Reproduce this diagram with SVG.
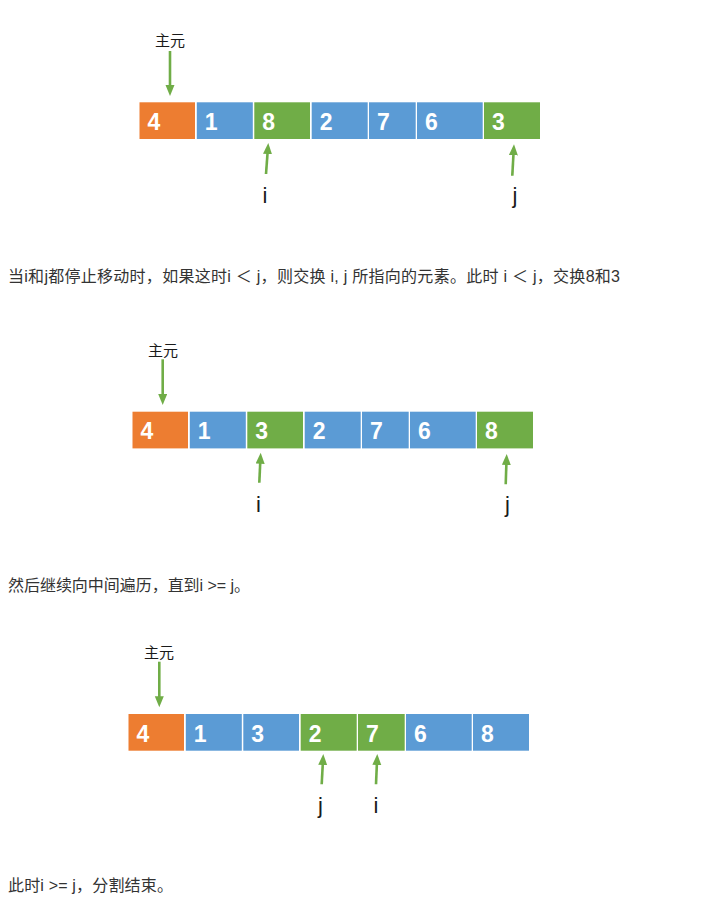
<svg xmlns="http://www.w3.org/2000/svg" width="727" height="909" viewBox="0 0 727 909">
<style>
.o{fill:#ED7D31}
.b{fill:#5B9BD5}
.g{fill:#70AD47}
.n{font-family:"Liberation Sans",Arial,sans-serif;font-weight:bold;font-size:23px;fill:#ffffff}
.lbl{font-family:"Liberation Sans",Arial,sans-serif;font-size:22px;fill:#1a1a1a;text-anchor:middle}
.pv{font-family:"Liberation Sans","Noto Sans CJK SC",sans-serif;font-size:15px;fill:#1a1a1a;text-anchor:middle}
.cap{font-family:"Liberation Sans","Noto Sans CJK SC",sans-serif;font-size:16px;fill:#333333}
.ar{stroke:#70AD47;stroke-width:2.6;fill:none;marker-end:url(#ah)}
</style>
<defs>
<marker id="ah" markerUnits="userSpaceOnUse" markerWidth="12" markerHeight="10" refX="1" refY="4.5" orient="auto">
<path d="M0,0 L11,4.5 L0,9 z" fill="#70AD47"/>
</marker>
</defs>
<rect width="727" height="909" fill="#ffffff"/>

<!-- Diagram 1 -->
<g id="d1">
<g id="d1c0"><rect class="o" x="139.5" y="102.3" width="55.5" height="36.7"/><text class="n" x="147.5" y="130">4</text></g>
<g id="d1c1"><rect class="b" x="196.8" y="102.3" width="56" height="36.7"/><text class="n" x="204.8" y="130">1</text></g>
<g id="d1c2"><rect class="g" x="254.3" y="102.3" width="55.7" height="36.7"/><text class="n" x="262.3" y="130">8</text></g>
<g id="d1c3"><rect class="b" x="311.7" y="102.3" width="56" height="36.7"/><text class="n" x="319.7" y="130">2</text></g>
<g id="d1c4"><rect class="b" x="369" y="102.3" width="46.7" height="36.7"/><text class="n" x="377" y="130">7</text></g>
<g id="d1c5"><rect class="b" x="417" y="102.3" width="65.7" height="36.7"/><text class="n" x="425" y="130">6</text></g>
<g id="d1c6"><rect class="g" x="484" y="102.3" width="56" height="36.7"/><text class="n" x="492" y="130">3</text></g>
<g id="d1pivot"><text class="pv" x="170" y="46">主元</text></g>
<g id="d1i"><text class="lbl" x="265" y="202.7">i</text></g>
<g id="d1j"><text class="lbl" x="515" y="202.7">j</text></g>
</g>

<!-- Diagram 2 -->
<g id="d2">
<g id="d2c0"><rect class="o" x="132.5" y="411.7" width="55.5" height="36.7"/><text class="n" x="140.5" y="439.4">4</text></g>
<g id="d2c1"><rect class="b" x="189.8" y="411.7" width="56" height="36.7"/><text class="n" x="197.8" y="439.4">1</text></g>
<g id="d2c2"><rect class="g" x="247.3" y="411.7" width="55.7" height="36.7"/><text class="n" x="255.3" y="439.4">3</text></g>
<g id="d2c3"><rect class="b" x="304.7" y="411.7" width="56" height="36.7"/><text class="n" x="312.7" y="439.4">2</text></g>
<g id="d2c4"><rect class="b" x="362" y="411.7" width="46.7" height="36.7"/><text class="n" x="370" y="439.4">7</text></g>
<g id="d2c5"><rect class="b" x="410" y="411.7" width="65.7" height="36.7"/><text class="n" x="418" y="439.4">6</text></g>
<g id="d2c6"><rect class="g" x="477" y="411.7" width="56" height="36.7"/><text class="n" x="485" y="439.4">8</text></g>
<g id="d2pivot"><text class="pv" x="163" y="355.5">主元</text></g>
<g id="d2i"><text class="lbl" x="258.5" y="511.7">i</text></g>
<g id="d2j"><text class="lbl" x="507.5" y="511.7">j</text></g>
</g>

<!-- Diagram 3 -->
<g id="d3">
<g id="d3c0"><rect class="o" x="128.5" y="714" width="55.5" height="36.7"/><text class="n" x="136.5" y="741.7">4</text></g>
<g id="d3c1"><rect class="b" x="185.8" y="714" width="56" height="36.7"/><text class="n" x="193.8" y="741.7">1</text></g>
<g id="d3c2"><rect class="b" x="243.3" y="714" width="55.7" height="36.7"/><text class="n" x="251.3" y="741.7">3</text></g>
<g id="d3c3"><rect class="g" x="300.7" y="714" width="56" height="36.7"/><text class="n" x="308.7" y="741.7">2</text></g>
<g id="d3c4"><rect class="g" x="358" y="714" width="46.7" height="36.7"/><text class="n" x="366" y="741.7">7</text></g>
<g id="d3c5"><rect class="b" x="406" y="714" width="65.7" height="36.7"/><text class="n" x="414" y="741.7">6</text></g>
<g id="d3c6"><rect class="b" x="473" y="714" width="56" height="36.7"/><text class="n" x="481" y="741.7">8</text></g>
<g id="d3pivot"><text class="pv" x="159" y="657.5">主元</text></g>
<g id="d3j"><text class="lbl" x="320.5" y="812.7">j</text></g>
<g id="d3i"><text class="lbl" x="376" y="812.7">i</text></g>
</g>

<g id="connectors">
<line class="ar" x1="170" y1="51" x2="170" y2="86"/>
<line class="ar" x1="266" y1="174" x2="267.56" y2="152.97"/>
<line class="ar" x1="512.3" y1="175.7" x2="513.46" y2="154.3"/>
<line class="ar" x1="162.7" y1="359.3" x2="162.7" y2="395"/>
<line class="ar" x1="259.3" y1="482.7" x2="260.23" y2="462.7"/>
<line class="ar" x1="505.7" y1="484.3" x2="506.37" y2="464"/>
<line class="ar" x1="159.3" y1="661.7" x2="159.3" y2="697.3"/>
<line class="ar" x1="321.7" y1="784.3" x2="322.77" y2="764"/>
<line class="ar" x1="376" y1="784.3" x2="376.87" y2="764"/>
</g>

<g id="captions">
<text class="cap" x="8" y="281.5" textLength="612" lengthAdjust="spacing">当i和j都停止移动时，如果这时i ＜ j，则交换 i, j 所指向的元素。此时 i ＜ j，交换8和3</text>
<text class="cap" x="8" y="590.5" textLength="242" lengthAdjust="spacing">然后继续向中间遍历，直到i  &gt;= j。</text>
<text class="cap" x="8" y="891" textLength="165" lengthAdjust="spacing">此时i  &gt;= j，分割结束。</text>
</g>
</svg>
